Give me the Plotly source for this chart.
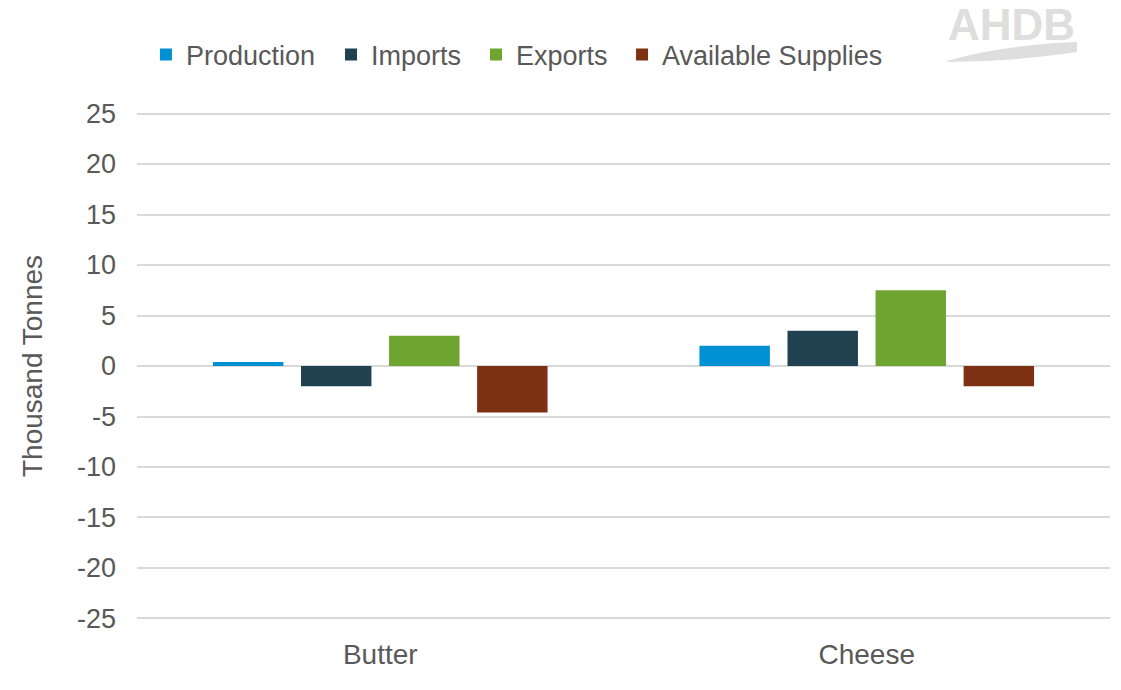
import plotly.graph_objects as go

categories = ["Butter", "Cheese"]
series_names = ["Production", "Imports", "Exports", "Available Supplies"]
production = [0.4, 2.0]
imports = [-2.0, 3.5]
exports = [3.0, 7.5]
available = [-4.6, -2.0]
colors = ["#0090D4", "#1F4150", "#6EA430", "#7D3012"]
y_ticks = [-25, -20, -15, -10, -5, 0, 5, 10, 15, 20, 25]
y_tick_labels = ["-25", "-20", "-15", "-10", "-5", "0", "5", "10", "15", "20", "25"]

font_col = "#595959"
FS = 28
legend_ids = ["legend", "legend2", "legend3", "legend4"]
legend_x = [0.0092, 0.1994, 0.3484, 0.4985]

fig = go.Figure()
for name, vals, col, lid in zip(series_names, [production, imports, exports, available], colors, legend_ids):
    fig.add_trace(go.Bar(x=categories, y=vals, name=name, legend=lid, showlegend=True,
                         marker=dict(color=col, line=dict(width=0))))

legend_common = dict(orientation="h", xanchor="left", y=1 - 55 / 690, yref="container", yanchor="middle",
                     font=dict(size=27, color=font_col), itemwidth=30, bgcolor="rgba(0,0,0,0)")
layout_legends = {lid: dict(x=lx, **legend_common) for lid, lx in zip(legend_ids, legend_x)}

fig.update_layout(
    width=1121, height=690,
    showlegend=True,
    margin=dict(l=137, r=11, t=112, b=70),
    paper_bgcolor="white", plot_bgcolor="white",
    barmode="group", bargap=0.276, bargroupgap=0.2,
    font=dict(family="Liberation Sans, Arial, sans-serif", size=FS, color=font_col),
    xaxis=dict(showgrid=False, showline=False, ticks="", ticklabelstandoff=15,
               tickfont=dict(size=FS, color=font_col)),
    yaxis=dict(range=[-25.15, 25.15], tickvals=y_ticks, ticktext=y_tick_labels,
               showgrid=True, gridcolor="#D9D9D9", gridwidth=1.5,
               zeroline=True, zerolinecolor="#D9D9D9", zerolinewidth=2, showline=False,
               tickfont=dict(size=27, color=font_col), ticks="", ticklabelstandoff=20,
               title=dict(text="Thousand Tonnes", font=dict(size=FS, color=font_col), standoff=26)),
    **layout_legends,
)

# AHDB logo watermark
fig.add_annotation(text="<b>AHDB</b>", xref="paper", yref="paper", x=0.8983, y=1.1732,
                   xanchor="center", yanchor="middle", showarrow=False,
                   font=dict(family="Liberation Sans, Arial, sans-serif", size=44, color="#DEDEDE"))
fig.add_shape(type="path", xref="paper", yref="paper",
              path="M 0.8325 1.1004 Q 0.887 1.1319 0.9661 1.1378 L 0.9661 1.1181 Q 0.8972 1.0984 0.8325 1.0984 Z",
              fillcolor="#DEDEDE", line=dict(width=0), layer="above")

fig.write_html("out.html")
